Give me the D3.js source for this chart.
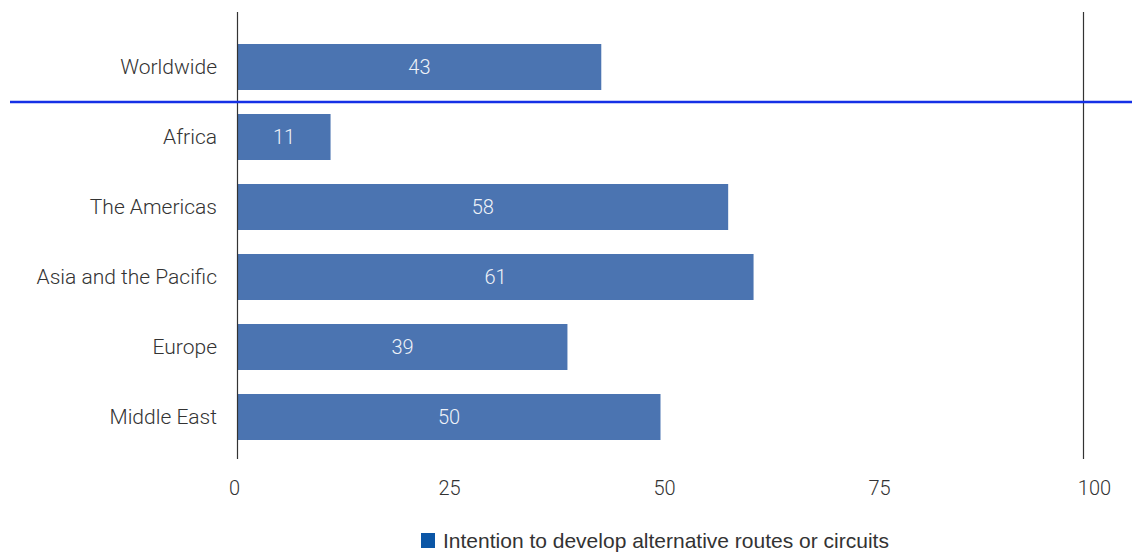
<!DOCTYPE html>
<html>
<head>
<meta charset="utf-8">
<script src="https://cdn.jsdelivr.net/npm/d3@7"></script>
<style>
  html, body { margin: 0; padding: 0; background: #fff; }
  svg { display: block; }
</style>
</head>
<body>
<div id="chart"></div>
<script>
// Share of respondents intending to develop alternative routes or circuits, by region
const regions = ["Worldwide", "Africa", "The Americas", "Asia and the Pacific", "Europe", "Middle East"];
const intention = [43, 11, 58, 61, 39, 50];
const xTicks = [0, 25, 50, 75, 100];
const legendLabel = "Intention to develop alternative routes or circuits";

const W = 1132, H = 554;
const svg = d3.select("#chart").append("svg").attr("width", W).attr("height", H);

const x = d3.scaleLinear().domain([0, 100]).range([237.5, 1083.5]);
// tick labels sit on a slightly wider spread than the plot area
const xLabel = d3.scaleLinear().domain([0, 100]).range([234, 1094]);
const y = d3.scaleBand().domain(regions).range([32, 452])
  .paddingInner(24 / 70).paddingOuter(12 / 70);

const labelFont = "Roboto, 'DejaVu Sans', sans-serif";

// Bars
svg.append("g").selectAll("rect")
  .data(regions)
  .join("rect")
  .attr("x", x(0))
  .attr("y", d => y(d))
  .attr("width", (d, i) => x(intention[i]) - x(0))
  .attr("height", y.bandwidth())
  .attr("fill", "#4b74b1");

// Value labels inside bars
svg.append("g").selectAll("text")
  .data(regions)
  .join("text")
  .attr("x", (d, i) => (x(0) + x(intention[i])) / 2)
  .attr("y", d => y(d) + y.bandwidth() / 2)
  .attr("dy", "0.35em")
  .attr("text-anchor", "middle")
  .attr("font-family", labelFont)
  .attr("font-weight", 300)
  .attr("font-size", 20)
  .attr("fill", "#eef2f8")
  .text((d, i) => intention[i]);

// Category labels
svg.append("g").selectAll("text")
  .data(regions)
  .join("text")
  .attr("x", 217)
  .attr("y", d => y(d) + y.bandwidth() / 2)
  .attr("dy", "0.35em")
  .attr("text-anchor", "end")
  .attr("font-family", labelFont)
  .attr("font-weight", 300)
  .attr("font-size", 21)
  .attr("fill", "#333")
  .text(d => d);

// Axis lines at 0 and 100
svg.append("g").selectAll("line")
  .data([0, 100])
  .join("line")
  .attr("x1", d => x(d))
  .attr("x2", d => x(d))
  .attr("y1", 12)
  .attr("y2", 459)
  .attr("stroke", "#333")
  .attr("stroke-width", 1.2);

// Divider between worldwide and regional bars
const divY = (y("Worldwide") + y.bandwidth() + y("Africa")) / 2;
svg.append("line")
  .attr("x1", 10).attr("x2", W)
  .attr("y1", divY).attr("y2", divY)
  .attr("stroke", "#1530e6")
  .attr("stroke-width", 2.5);

// X tick labels
const xAxis = d3.axisBottom(xLabel).tickValues(xTicks).tickSize(0).tickPadding(0);
const gx = svg.append("g").attr("transform", "translate(0,481)").call(xAxis);
gx.select(".domain").remove();
gx.selectAll("text")
  .attr("font-family", labelFont)
  .attr("font-weight", 300)
  .attr("font-size", 20)
  .attr("fill", "#333");

// Legend
const lg = svg.append("g").attr("transform", "translate(421,533)");
lg.append("rect").attr("width", 14).attr("height", 15).attr("fill", "#0b56a6");
lg.append("text")
  .attr("x", 22).attr("y", 8).attr("dy", "0.35em")
  .attr("font-family", "'Liberation Sans', Arial, sans-serif")
  .attr("font-size", 21)
  .attr("fill", "#333")
  .text(legendLabel);
</script>
</body>
</html>
